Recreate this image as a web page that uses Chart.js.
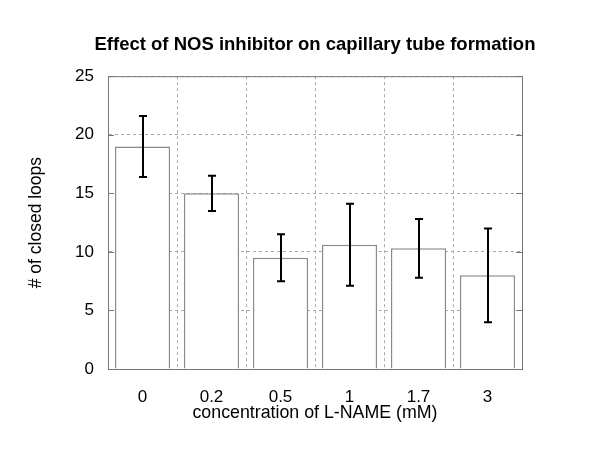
<!DOCTYPE html>
<html>
<head>
<meta charset="utf-8">
<script src="https://cdn.jsdelivr.net/npm/chart.js@4/dist/chart.umd.min.js"></script>
<style>
  html, body { margin: 0; padding: 0; background: #fff; }
  #wrap { width: 600px; height: 458px; }
</style>
</head>
<body>
<div id="wrap"><canvas id="Chart"></canvas></div>
<script>
// data
var concentrations = ['0', '0.2', '0.5', '1', '1.7', '3'];
var closedLoops = [19, 15, 9.5, 10.6, 10.3, 8];
var loopErrors = [2.6, 1.5, 2, 3.5, 2.5, 4];
var yTicks = [0, 5, 10, 15, 20, 25];

var fontName = '"Liberation Sans", Arial, sans-serif';

// solid frame with small inner ticks, like gnuplot
var frame = {
    id: 'frame',
    beforeDatasetsDraw: function (chart) {
        var ctx = chart.ctx, a = chart.chartArea;
        var y = chart.scales.y;
        ctx.save();
        ctx.strokeStyle = '#777';
        ctx.lineWidth = 1;
        ctx.strokeRect(a.left + 0.5, a.top + 0.5, a.right - a.left, a.bottom - a.top);
        ctx.beginPath();
        y.ticks.forEach(function (t) {
            var py = Math.round(y.getPixelForValue(t.value)) + 0.5;
            ctx.moveTo(a.left, py); ctx.lineTo(a.left + 6, py);
            ctx.moveTo(a.right - 6, py); ctx.lineTo(a.right, py);
        });
        ctx.stroke();
        ctx.restore();
    }
};

// error bars drawn on top of the bars
var errorBars = {
    id: 'errorBars',
    afterDatasetsDraw: function (chart) {
        var ctx = chart.ctx;
        var x = chart.scales.x, y = chart.scales.y;
        ctx.save();
        ctx.strokeStyle = '#000';
        ctx.lineWidth = 2;
        closedLoops.forEach(function (v, i) {
            var px = Math.round(x.getPixelForValue(i));
            var top = y.getPixelForValue(v + loopErrors[i]);
            var bot = y.getPixelForValue(v - loopErrors[i]);
            ctx.beginPath();
            ctx.moveTo(px, top); ctx.lineTo(px, bot);
            ctx.moveTo(px - 4, top); ctx.lineTo(px + 4, top);
            ctx.moveTo(px - 4, bot); ctx.lineTo(px + 4, bot);
            ctx.stroke();
        });
        ctx.restore();
    }
};

var context = document.getElementById('Chart').getContext('2d');

var myChart = new Chart(context, {
    type: 'bar',
    data: {
        labels: concentrations,
        datasets: [{
            data: closedLoops,
            backgroundColor: '#fff',
            borderColor: '#8a8a8a',
            borderWidth: 1.5,
            barPercentage: 0.8,
            categoryPercentage: 1
        }]
    },
    options: {
        responsive: true,
        maintainAspectRatio: false,
        animation: false,
        layout: { padding: { left: 30, right: 0, bottom: 34 } },
        scales: {
            x: {
                afterFit: function (scale) { scale.height = 55; },
                grid: { color: '#aaa', drawTicks: false },
                border: { color: '#777', dash: [3, 3] },
                ticks: { color: '#000', font: { family: fontName, size: 17 }, padding: 18 },
                title: {
                    display: true,
                    text: 'concentration of L-NAME (mM)',
                    color: '#000',
                    font: { family: fontName, size: 17.8 },
                    padding: { top: 0, bottom: 0 }
                }
            },
            y: {
                min: 0,
                max: 25,
                afterFit: function (scale) { scale.width = 78; },
                afterBuildTicks: function (scale) {
                    scale.ticks = yTicks.map(function (v) { return { value: v }; });
                },
                grid: { color: '#aaa', drawTicks: false },
                border: { color: '#777', dash: [3, 3] },
                ticks: { color: '#000', font: { family: fontName, size: 17 }, padding: 14 },
                title: {
                    display: true,
                    text: '# of closed loops',
                    color: '#000',
                    font: { family: fontName, size: 17.5 },
                    padding: { top: -4, bottom: 0 }
                }
            },
            // empty right-hand axis that only keeps the margin
            yRight: {
                position: 'right',
                min: 0,
                max: 25,
                afterFit: function (scale) { scale.width = 78; },
                grid: { display: false },
                border: { display: false },
                ticks: { display: false }
            }
        },
        plugins: {
            legend: { display: false },
            tooltip: { enabled: false },
            title: {
                display: true,
                text: 'Effect of NOS inhibitor on capillary tube formation',
                color: '#000',
                font: { family: fontName, size: 18.5, weight: 'bold' },
                padding: { top: 34, bottom: 20 }
            }
        }
    },
    plugins: [frame, errorBars]
});
</script>
</body>
</html>
